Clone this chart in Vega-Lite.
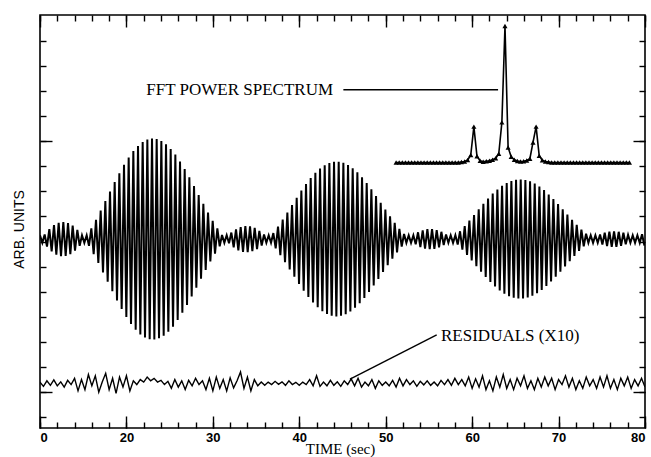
{
"$schema":"https://vega.github.io/schema/vega-lite/v6.json",
"width":605,"height":413,
"autosize":{"type":"none"},
"padding":{"left":40,"top":15,"right":6,"bottom":29},
"background":"white",
"config":{"view":{"stroke":"black","strokeWidth":1.6},"axis":{"domain":false,"grid":false,"tickColor":"black","tickWidth":1.4}},
"resolve":{"axis":{"x":"independent","y":"independent"}},
"datasets":{
"sig":[
{"t":10.00,"v":7.25},{"t":10.27,"v":6.95},{"t":10.54,"v":7.28},{"t":10.81,"v":6.80},{"t":11.08,"v":7.50},{"t":11.35,"v":6.61},{"t":11.62,"v":7.66},{"t":11.89,"v":6.48},{"t":12.16,"v":7.75},{"t":12.43,"v":6.42},
{"t":12.70,"v":7.78},{"t":12.97,"v":6.43},{"t":13.24,"v":7.74},{"t":13.51,"v":6.50},{"t":13.78,"v":7.64},{"t":14.05,"v":6.64},{"t":14.32,"v":7.47},{"t":14.59,"v":6.83},{"t":14.86,"v":7.25},{"t":15.13,"v":6.95},
{"t":15.40,"v":7.25},{"t":15.67,"v":6.83},{"t":15.94,"v":7.53},{"t":16.21,"v":6.50},{"t":16.48,"v":7.87},{"t":16.75,"v":6.15},{"t":17.02,"v":8.24},{"t":17.29,"v":5.77},{"t":17.56,"v":8.62},{"t":17.83,"v":5.40},
{"t":18.10,"v":8.99},{"t":18.37,"v":5.02},{"t":18.64,"v":9.37},{"t":18.91,"v":4.65},{"t":19.18,"v":9.72},{"t":19.45,"v":4.31},{"t":19.72,"v":10.06},{"t":19.99,"v":3.99},{"t":20.26,"v":10.35},{"t":20.53,"v":3.72},
{"t":20.80,"v":10.61},{"t":21.07,"v":3.49},{"t":21.34,"v":10.81},{"t":21.61,"v":3.30},{"t":21.88,"v":10.97},{"t":22.15,"v":3.18},{"t":22.42,"v":11.07},{"t":22.69,"v":3.11},{"t":22.96,"v":11.11},{"t":23.23,"v":3.10},
{"t":23.50,"v":11.09},{"t":23.77,"v":3.15},{"t":24.04,"v":11.01},{"t":24.31,"v":3.25},{"t":24.58,"v":10.88},{"t":24.85,"v":3.41},{"t":25.12,"v":10.69},{"t":25.39,"v":3.61},{"t":25.66,"v":10.47},{"t":25.93,"v":3.87},
{"t":26.20,"v":10.19},{"t":26.47,"v":4.16},{"t":26.74,"v":9.89},{"t":27.01,"v":4.47},{"t":27.28,"v":9.56},{"t":27.55,"v":4.81},{"t":27.82,"v":9.21},{"t":28.09,"v":5.16},{"t":28.36,"v":8.86},{"t":28.63,"v":5.52},
{"t":28.90,"v":8.51},{"t":29.17,"v":5.87},{"t":29.44,"v":8.16},{"t":29.71,"v":6.21},{"t":29.98,"v":7.83},{"t":30.25,"v":6.52},{"t":30.52,"v":7.53},{"t":30.79,"v":6.81},{"t":31.06,"v":7.26},{"t":31.33,"v":6.95},
{"t":31.60,"v":7.25},{"t":31.87,"v":6.93},{"t":32.14,"v":7.36},{"t":32.41,"v":6.77},{"t":32.68,"v":7.49},{"t":32.95,"v":6.65},{"t":33.22,"v":7.58},{"t":33.49,"v":6.59},{"t":33.76,"v":7.62},{"t":34.03,"v":6.58},
{"t":34.30,"v":7.61},{"t":34.57,"v":6.62},{"t":34.84,"v":7.55},{"t":35.11,"v":6.70},{"t":35.38,"v":7.43},{"t":35.65,"v":6.84},{"t":35.92,"v":7.28},{"t":36.19,"v":6.95},{"t":36.46,"v":7.25},{"t":36.73,"v":6.95},
{"t":37.00,"v":7.34},{"t":37.27,"v":6.73},{"t":37.54,"v":7.60},{"t":37.81,"v":6.46},{"t":38.08,"v":7.88},{"t":38.35,"v":6.18},{"t":38.62,"v":8.16},{"t":38.89,"v":5.89},{"t":39.16,"v":8.46},{"t":39.43,"v":5.60},
{"t":39.70,"v":8.75},{"t":39.97,"v":5.31},{"t":40.24,"v":9.03},{"t":40.51,"v":5.04},{"t":40.78,"v":9.29},{"t":41.05,"v":4.79},{"t":41.32,"v":9.53},{"t":41.59,"v":4.57},{"t":41.86,"v":9.74},{"t":42.13,"v":4.38},
{"t":42.40,"v":9.91},{"t":42.67,"v":4.22},{"t":42.94,"v":10.04},{"t":43.21,"v":4.11},{"t":43.48,"v":10.13},{"t":43.75,"v":4.04},{"t":44.02,"v":10.18},{"t":44.29,"v":4.01},{"t":44.56,"v":10.18},{"t":44.83,"v":4.04},
{"t":45.10,"v":10.14},{"t":45.37,"v":4.10},{"t":45.64,"v":10.05},{"t":45.91,"v":4.21},{"t":46.18,"v":9.92},{"t":46.45,"v":4.36},{"t":46.72,"v":9.76},{"t":46.99,"v":4.54},{"t":47.26,"v":9.56},{"t":47.53,"v":4.75},
{"t":47.80,"v":9.33},{"t":48.07,"v":4.99},{"t":48.34,"v":9.08},{"t":48.61,"v":5.25},{"t":48.88,"v":8.82},{"t":49.15,"v":5.51},{"t":49.42,"v":8.55},{"t":49.69,"v":5.79},{"t":49.96,"v":8.28},{"t":50.23,"v":6.06},
{"t":50.50,"v":8.01},{"t":50.77,"v":6.32},{"t":51.04,"v":7.75},{"t":51.31,"v":6.57},{"t":51.58,"v":7.51},{"t":51.85,"v":6.80},{"t":52.12,"v":7.30},{"t":52.39,"v":6.95},{"t":52.66,"v":7.25},{"t":52.93,"v":6.95},
{"t":53.20,"v":7.25},{"t":53.47,"v":6.89},{"t":53.74,"v":7.37},{"t":54.01,"v":6.78},{"t":54.28,"v":7.45},{"t":54.55,"v":6.72},{"t":54.82,"v":7.50},{"t":55.09,"v":6.70},{"t":55.36,"v":7.50},{"t":55.63,"v":6.71},
{"t":55.90,"v":7.46},{"t":56.17,"v":6.77},{"t":56.44,"v":7.39},{"t":56.71,"v":6.86},{"t":56.98,"v":7.28},{"t":57.25,"v":6.95},{"t":57.52,"v":7.25},{"t":57.79,"v":6.95},{"t":58.06,"v":7.25},{"t":58.33,"v":6.88},
{"t":58.60,"v":7.41},{"t":58.87,"v":6.68},{"t":59.14,"v":7.62},{"t":59.41,"v":6.47},{"t":59.68,"v":7.84},{"t":59.95,"v":6.25},{"t":60.22,"v":8.06},{"t":60.49,"v":6.02},{"t":60.76,"v":8.29},{"t":61.03,"v":5.80},
{"t":61.30,"v":8.51},{"t":61.57,"v":5.59},{"t":61.84,"v":8.72},{"t":62.11,"v":5.39},{"t":62.38,"v":8.91},{"t":62.65,"v":5.21},{"t":62.92,"v":9.07},{"t":63.19,"v":5.05},{"t":63.46,"v":9.22},{"t":63.73,"v":4.92},
{"t":64.00,"v":9.33},{"t":64.27,"v":4.82},{"t":64.54,"v":9.41},{"t":64.81,"v":4.76},{"t":65.08,"v":9.46},{"t":65.35,"v":4.73},{"t":65.62,"v":9.47},{"t":65.89,"v":4.73},{"t":66.16,"v":9.45},{"t":66.43,"v":4.77},
{"t":66.70,"v":9.40},{"t":66.97,"v":4.84},{"t":67.24,"v":9.31},{"t":67.51,"v":4.94},{"t":67.78,"v":9.19},{"t":68.05,"v":5.07},{"t":68.32,"v":9.05},{"t":68.59,"v":5.23},{"t":68.86,"v":8.88},{"t":69.13,"v":5.41},
{"t":69.40,"v":8.70},{"t":69.67,"v":5.60},{"t":69.94,"v":8.50},{"t":70.21,"v":5.80},{"t":70.48,"v":8.29},{"t":70.75,"v":6.01},{"t":71.02,"v":8.08},{"t":71.29,"v":6.22},{"t":71.56,"v":7.87},{"t":71.83,"v":6.43},
{"t":72.10,"v":7.67},{"t":72.37,"v":6.63},{"t":72.64,"v":7.48},{"t":72.91,"v":6.81},{"t":73.18,"v":7.31},{"t":73.45,"v":6.95},{"t":73.72,"v":7.25},{"t":73.99,"v":6.95},{"t":74.26,"v":7.25},{"t":74.53,"v":6.95},
{"t":74.80,"v":7.28},{"t":75.07,"v":6.88},{"t":75.34,"v":7.35},{"t":75.61,"v":6.82},{"t":75.88,"v":7.40},{"t":76.15,"v":6.79},{"t":76.42,"v":7.41},{"t":76.69,"v":6.79},{"t":76.96,"v":7.39},{"t":77.23,"v":6.83},
{"t":77.50,"v":7.35},{"t":77.77,"v":6.89},{"t":78.04,"v":7.27},{"t":78.31,"v":6.95},{"t":78.58,"v":7.25},{"t":78.85,"v":6.95},{"t":79.12,"v":7.25},{"t":79.39,"v":6.95},{"t":79.66,"v":7.29},{"t":79.93,"v":6.84}
],
"res":[
{"t":10.0,"v":1.40},{"t":10.4,"v":1.23},{"t":10.8,"v":1.45},{"t":11.2,"v":1.27},{"t":11.6,"v":1.49},{"t":12.0,"v":1.25},{"t":12.4,"v":1.41},{"t":12.8,"v":1.20},{"t":13.2,"v":1.47},{"t":13.6,"v":1.30},
{"t":14.0,"v":1.55},{"t":14.4,"v":1.05},{"t":14.8,"v":1.50},{"t":15.2,"v":1.10},{"t":15.6,"v":1.70},{"t":16.0,"v":1.25},{"t":16.4,"v":1.65},{"t":16.8,"v":1.00},{"t":17.2,"v":1.40},{"t":17.6,"v":1.75},
{"t":18.0,"v":1.10},{"t":18.4,"v":1.55},{"t":18.8,"v":0.95},{"t":19.2,"v":1.60},{"t":19.6,"v":1.20},{"t":20.0,"v":1.65},{"t":20.4,"v":1.05},{"t":20.8,"v":1.45},{"t":21.2,"v":1.30},{"t":21.6,"v":1.50},
{"t":22.0,"v":1.40},{"t":22.4,"v":1.60},{"t":22.8,"v":1.45},{"t":23.2,"v":1.55},{"t":23.6,"v":1.40},{"t":24.0,"v":1.47},{"t":24.4,"v":1.30},{"t":24.8,"v":1.43},{"t":25.2,"v":1.15},{"t":25.6,"v":1.50},
{"t":26.0,"v":1.20},{"t":26.4,"v":1.45},{"t":26.8,"v":1.10},{"t":27.2,"v":1.47},{"t":27.6,"v":1.25},{"t":28.0,"v":1.55},{"t":28.4,"v":1.30},{"t":28.8,"v":1.45},{"t":29.2,"v":1.10},{"t":29.6,"v":1.55},
{"t":30.0,"v":1.05},{"t":30.4,"v":1.60},{"t":30.8,"v":1.15},{"t":31.2,"v":1.50},{"t":31.6,"v":1.05},{"t":32.0,"v":1.57},{"t":32.4,"v":1.17},{"t":32.8,"v":1.45},{"t":33.2,"v":1.80},{"t":33.6,"v":1.15},
{"t":34.0,"v":1.60},{"t":34.4,"v":1.05},{"t":34.8,"v":1.50},{"t":35.2,"v":1.25},{"t":35.6,"v":1.40},{"t":36.0,"v":1.27},{"t":36.4,"v":1.40},{"t":36.8,"v":1.30},{"t":37.2,"v":1.43},{"t":37.6,"v":1.31},
{"t":38.0,"v":1.41},{"t":38.4,"v":1.27},{"t":38.8,"v":1.45},{"t":39.2,"v":1.30},{"t":39.6,"v":1.39},{"t":40.0,"v":1.27},{"t":40.4,"v":1.40},{"t":40.8,"v":1.30},{"t":41.2,"v":1.50},{"t":41.6,"v":1.25},
{"t":42.0,"v":1.65},{"t":42.4,"v":1.23},{"t":42.8,"v":1.40},{"t":43.2,"v":1.25},{"t":43.6,"v":1.47},{"t":44.0,"v":1.27},{"t":44.4,"v":1.41},{"t":44.8,"v":1.23},{"t":45.2,"v":1.45},{"t":45.6,"v":1.30},
{"t":46.0,"v":1.53},{"t":46.4,"v":1.25},{"t":46.8,"v":1.55},{"t":47.2,"v":1.20},{"t":47.6,"v":1.40},{"t":48.0,"v":1.25},{"t":48.4,"v":1.50},{"t":48.8,"v":1.15},{"t":49.2,"v":1.45},{"t":49.6,"v":1.27},
{"t":50.0,"v":1.40},{"t":50.4,"v":1.25},{"t":50.8,"v":1.47},{"t":51.2,"v":1.20},{"t":51.6,"v":1.55},{"t":52.0,"v":1.25},{"t":52.4,"v":1.50},{"t":52.8,"v":1.30},{"t":53.2,"v":1.45},{"t":53.6,"v":1.23},
{"t":54.0,"v":1.43},{"t":54.4,"v":1.29},{"t":54.8,"v":1.45},{"t":55.2,"v":1.27},{"t":55.6,"v":1.40},{"t":56.0,"v":1.25},{"t":56.4,"v":1.47},{"t":56.8,"v":1.30},{"t":57.2,"v":1.50},{"t":57.6,"v":1.27},
{"t":58.0,"v":1.55},{"t":58.4,"v":1.30},{"t":58.8,"v":1.50},{"t":59.2,"v":1.25},{"t":59.6,"v":1.60},{"t":60.0,"v":1.15},{"t":60.4,"v":1.53},{"t":60.8,"v":1.20},{"t":61.2,"v":1.65},{"t":61.6,"v":1.10},
{"t":62.0,"v":1.45},{"t":62.4,"v":1.05},{"t":62.8,"v":1.60},{"t":63.2,"v":1.20},{"t":63.6,"v":1.70},{"t":64.0,"v":1.15},{"t":64.4,"v":1.50},{"t":64.8,"v":1.10},{"t":65.2,"v":1.55},{"t":65.6,"v":1.25},
{"t":66.0,"v":1.65},{"t":66.4,"v":1.15},{"t":66.8,"v":1.45},{"t":67.2,"v":1.10},{"t":67.6,"v":1.55},{"t":68.0,"v":1.20},{"t":68.4,"v":1.60},{"t":68.8,"v":1.25},{"t":69.2,"v":1.55},{"t":69.6,"v":1.10},
{"t":70.0,"v":1.50},{"t":70.4,"v":1.30},{"t":70.8,"v":1.65},{"t":71.2,"v":1.20},{"t":71.6,"v":1.55},{"t":72.0,"v":1.10},{"t":72.4,"v":1.45},{"t":72.8,"v":1.15},{"t":73.2,"v":1.60},{"t":73.6,"v":1.25},
{"t":74.0,"v":1.50},{"t":74.4,"v":1.15},{"t":74.8,"v":1.60},{"t":75.2,"v":1.20},{"t":75.6,"v":1.65},{"t":76.0,"v":1.15},{"t":76.4,"v":1.50},{"t":76.8,"v":1.10},{"t":77.2,"v":1.55},{"t":77.6,"v":1.25},
{"t":78.0,"v":1.60},{"t":78.4,"v":1.15},{"t":78.8,"v":1.50},{"t":79.2,"v":1.25},{"t":79.6,"v":1.55},{"t":80.0,"v":1.20}
],
"fft":[
{"t":51.20,"v":10.15},{"t":51.56,"v":10.15},{"t":51.92,"v":10.15},{"t":52.28,"v":10.15},{"t":52.64,"v":10.15},{"t":53.00,"v":10.15},{"t":53.36,"v":10.15},{"t":53.72,"v":10.15},{"t":54.08,"v":10.15},{"t":54.44,"v":10.15},
{"t":54.80,"v":10.15},{"t":55.16,"v":10.15},{"t":55.52,"v":10.15},{"t":55.88,"v":10.15},{"t":56.24,"v":10.15},{"t":56.60,"v":10.15},{"t":56.96,"v":10.15},{"t":57.32,"v":10.15},{"t":57.68,"v":10.15},{"t":58.04,"v":10.15},
{"t":58.40,"v":10.15},{"t":58.76,"v":10.17},{"t":59.12,"v":10.19},{"t":59.48,"v":10.25},{"t":59.84,"v":10.45},{"t":60.20,"v":11.58},{"t":60.56,"v":10.40},{"t":60.92,"v":10.22},{"t":61.28,"v":10.18},{"t":61.64,"v":10.20},
{"t":62.00,"v":10.22},{"t":62.36,"v":10.26},{"t":62.72,"v":10.32},{"t":63.08,"v":10.50},{"t":63.44,"v":11.75},{"t":63.80,"v":15.59},{"t":64.16,"v":10.75},{"t":64.52,"v":10.38},{"t":64.88,"v":10.26},{"t":65.24,"v":10.21},
{"t":65.60,"v":10.19},{"t":65.96,"v":10.20},{"t":66.32,"v":10.23},{"t":66.68,"v":10.30},{"t":67.04,"v":10.95},{"t":67.40,"v":11.58},{"t":67.76,"v":10.42},{"t":68.12,"v":10.24},{"t":68.48,"v":10.19},{"t":68.84,"v":10.17},
{"t":69.20,"v":10.15},{"t":69.56,"v":10.15},{"t":69.92,"v":10.15},{"t":70.28,"v":10.15},{"t":70.64,"v":10.15},{"t":71.00,"v":10.15},{"t":71.36,"v":10.15},{"t":71.72,"v":10.15},{"t":72.08,"v":10.15},{"t":72.44,"v":10.15},
{"t":72.80,"v":10.15},{"t":73.16,"v":10.15},{"t":73.52,"v":10.15},{"t":73.88,"v":10.15},{"t":74.24,"v":10.15},{"t":74.60,"v":10.15},{"t":74.96,"v":10.15},{"t":75.32,"v":10.15},{"t":75.68,"v":10.15},{"t":76.04,"v":10.15},
{"t":76.40,"v":10.15},{"t":76.76,"v":10.15},{"t":77.12,"v":10.15},{"t":77.48,"v":10.15},{"t":77.84,"v":10.15},{"t":78.20,"v":10.15}
],
"labels":[
{"t":22.3,"v":13.05,"label":"FFT POWER SPECTRUM"},
{"t":56.4,"v":3.24,"label":"RESIDUALS (X10)"}
],
"leaders":[
{"t":45.1,"v":13.05,"t2":63.0,"v2":13.05},
{"t":45.87,"v":1.52,"t2":55.9,"v2":3.28}
]
},
"layer":[
{
"data":{"name":"sig"},
"mark":{"type":"line","color":"black","strokeWidth":2,"clip":true},
"encoding":{
"x":{"field":"t","type":"quantitative","scale":{"domain":[10,80],"nice":false,"zero":false},
"axis":{"orient":"bottom","values":[10,12,14,16,18,20,22,24,26,28,30,32,34,36,38,40,42,44,46,48,50,52,54,56,58,60,62,64,66,68,70,72,74,76,78,80],"tickSize":-6,"labels":false,"title":null}},
"y":{"field":"v","type":"quantitative","scale":{"domain":[-0.43,16.03],"nice":false,"zero":false},
"axis":{"orient":"left","values":[0,1,2,3,4,5,6,7,8,9,10,11,12,13,14,15],"tickSize":-6,"labels":false,"title":null}}
}
},
{
"data":{"name":"res"},
"mark":{"type":"line","color":"black","strokeWidth":1.4,"clip":true},
"encoding":{
"x":{"field":"t","type":"quantitative","scale":{"domain":[10,80],"nice":false,"zero":false},
"axis":{"orient":"bottom","values":[10,20,30,40,50,60,70,80],"tickSize":-12,"labelExpr":"datum.value == 10 ? '0' : datum.label","labelFlush":true,"labelFont":"Liberation Sans","labelFontSize":13,"labelFontWeight":"bold","labelColor":"black","labelPadding":15,
"title":"TIME (sec)","titleFont":"Liberation Serif","titleFontSize":15,"titleFontWeight":"normal","titleColor":"black","titleBaseline":"alphabetic","titleAlign":"center","titleX":300,"titleY":25}},
"y":{"field":"v","type":"quantitative","scale":{"domain":[-0.43,16.03],"nice":false,"zero":false},
"axis":{"orient":"left","values":[1,11],"tickSize":-12,"labels":false,
"title":"ARB. UNITS","titleFont":"Liberation Sans","titleFontSize":14,"titleFontWeight":"normal","titleColor":"black","titleBaseline":"alphabetic","titleX":-17,"titleY":214}}
}
},
{
"data":{"name":"fft"},
"mark":{"type":"line","color":"black","strokeWidth":1.6},
"encoding":{
"x":{"field":"t","type":"quantitative","scale":{"domain":[10,80],"nice":false,"zero":false},
"axis":{"orient":"top","values":[10,12,14,16,18,20,22,24,26,28,30,32,34,36,38,40,42,44,46,48,50,52,54,56,58,60,62,64,66,68,70,72,74,76,78,80],"tickSize":-6,"labels":false,"title":null}},
"y":{"field":"v","type":"quantitative","scale":{"domain":[-0.43,16.03],"nice":false,"zero":false},
"axis":{"orient":"right","values":[0,1,2,3,4,5,6,7,8,9,10,11,12,13,14,15],"tickSize":-6,"labels":false,"title":null}}
}
},
{
"data":{"name":"fft"},
"mark":{"type":"point","shape":"triangle-up","filled":true,"color":"black","size":26,"opacity":1},
"encoding":{
"x":{"field":"t","type":"quantitative","scale":{"domain":[10,80],"nice":false,"zero":false},
"axis":{"orient":"top","values":[10,20,30,40,50,60,70,80],"tickSize":-12,"labels":false,"title":null}},
"y":{"field":"v","type":"quantitative","scale":{"domain":[-0.43,16.03],"nice":false,"zero":false},
"axis":{"orient":"right","values":[1,11],"tickSize":-12,"labels":false,"title":null}}
}
},
{
"data":{"name":"leaders"},
"mark":{"type":"rule","color":"black","strokeWidth":1.4},
"encoding":{
"x":{"field":"t","type":"quantitative","scale":{"domain":[10,80],"nice":false,"zero":false},"axis":null},
"y":{"field":"v","type":"quantitative","scale":{"domain":[-0.43,16.03],"nice":false,"zero":false},"axis":null},
"x2":{"field":"t2"},
"y2":{"field":"v2"}
}
},
{
"data":{"name":"labels"},
"mark":{"type":"text","align":"left","baseline":"middle","font":"Liberation Serif","fontSize":17,"color":"black"},
"encoding":{
"x":{"field":"t","type":"quantitative","scale":{"domain":[10,80],"nice":false,"zero":false},"axis":null},
"y":{"field":"v","type":"quantitative","scale":{"domain":[-0.43,16.03],"nice":false,"zero":false},"axis":null},
"text":{"field":"label"}
}
}
]
}
